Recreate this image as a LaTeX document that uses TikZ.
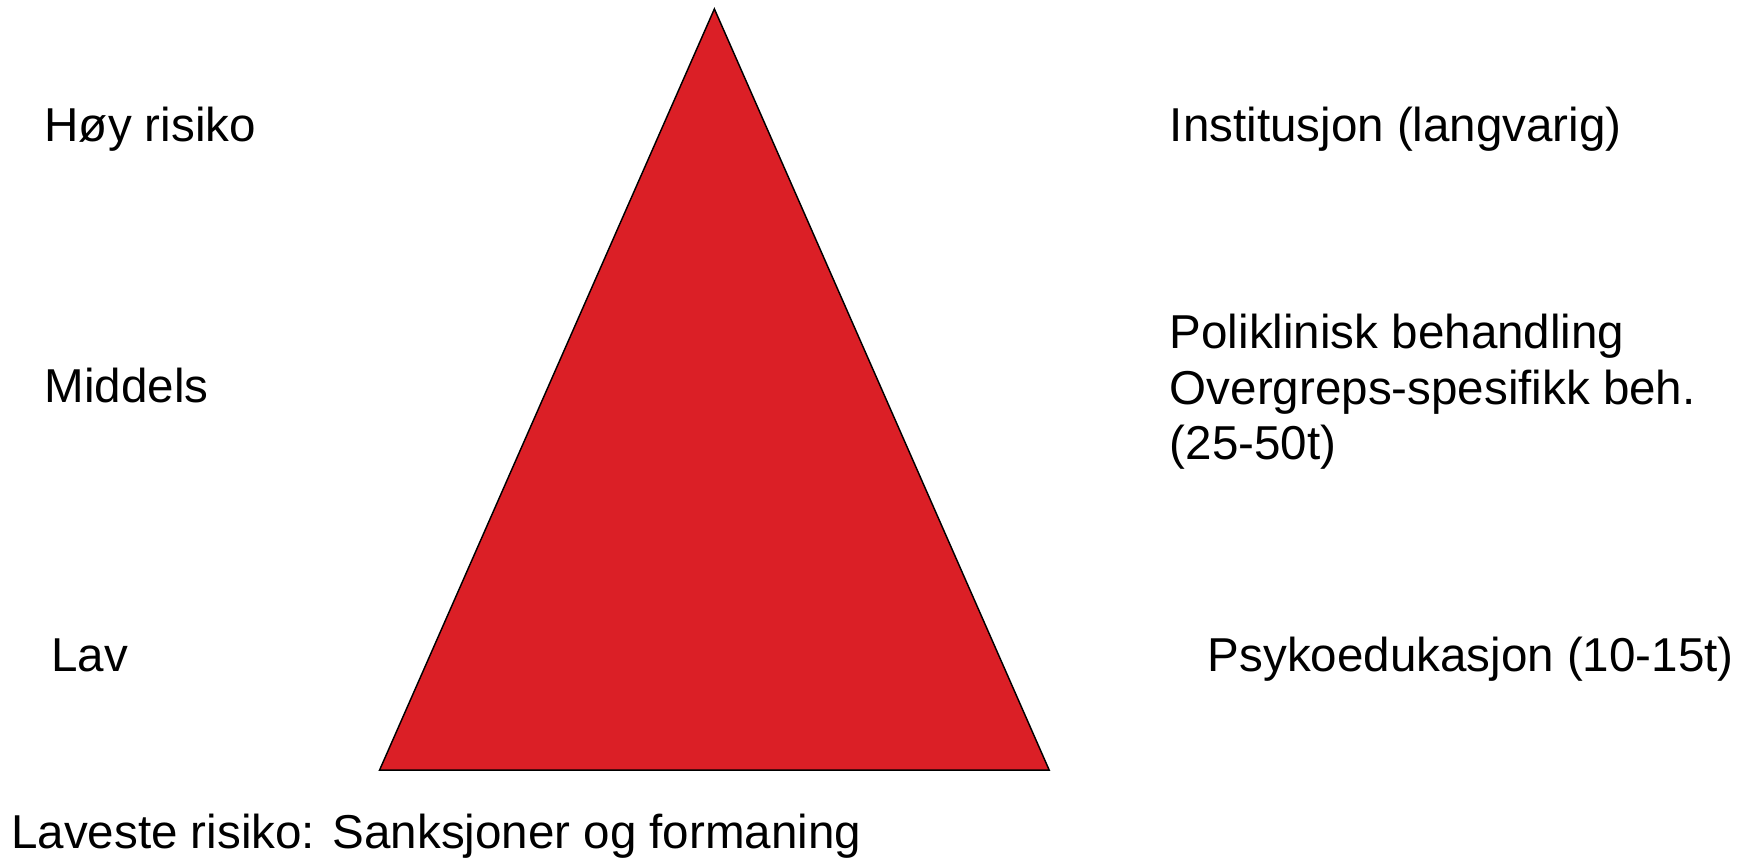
\documentclass[tikz,border=0pt]{standalone}
\usepackage{fontspec}
\setmainfont{Liberation Sans}
\definecolor{trired}{HTML}{DB1F26}
\begin{document}
\begin{tikzpicture}[x=1pt,y=-1pt,
  lbl/.style={anchor=base west,inner sep=0pt,outer sep=0pt,align=left,font=\fontsize{42.6}{50}\selectfont},
  tri/.style={fill=trired,draw=black,line width=1.3pt,line join=miter}]
\useasboundingbox (0,0) rectangle (1566,769.6);
\coordinate (apex) at (640,8);
\coordinate (bl) at (340,690);
\coordinate (br) at (940,690);
\draw[tri] (apex) -- (br) -- (bl) -- cycle;
\node[lbl] (hoy) at (40,127) {Høy risiko};
\node[lbl] (mid) at (40,361) {Middels};
\node[lbl] (lav) at (46,602) {Lav};
\node[lbl] (lavest) at (10,760) {Laveste risiko: Sanksjoner og formaning};
\node[lbl] (inst) at (1048,127) {Institusjon (langvarig)};
\node[lbl] (poli) at (1048,412) {Poliklinisk behandling\\Overgreps-spesifikk beh.\\(25-50t)};
\node[lbl] (psyk) at (1082,602) {Psykoedukasjon (10-15t)};
\end{tikzpicture}
\end{document}
